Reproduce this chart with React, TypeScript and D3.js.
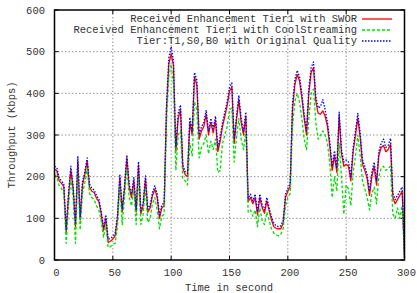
import React from 'react';
import * as d3 from 'd3';

const STEP = 2; // seconds between samples

const swor = [
  218, 214, 190, 184, 176, 66, 152, 215, 170, 80, 236, 96, 180, 205, 238, 175, 165, 162, 148, 140,
  112, 70, 100, 42, 45, 50, 58, 100, 198, 115, 170, 245, 175, 150, 190, 115, 228, 110, 130, 195,
  115, 125, 155, 170, 150, 100, 125, 130, 360, 470, 495, 465, 260, 340, 360, 220, 205, 200, 330, 300,
  440, 420, 290, 310, 320, 350, 300, 330, 305, 335, 260, 285, 320, 345, 370, 405, 415, 280, 335, 385,
  330, 300, 345, 140, 150, 135, 150, 108, 150, 125, 112, 142, 118, 96, 80, 76, 75, 75, 88, 150,
  165, 176, 360, 420, 445, 430, 390, 340, 300, 400, 450, 462, 380, 352, 350, 358, 345, 320, 272, 215,
  250, 210, 345, 255, 225, 230, 225, 190, 260, 300, 340, 295, 230, 215, 195, 155, 200, 225, 180, 250,
  270, 275, 260, 265, 278, 150, 135, 145, 155, 165, 5,
];

const coolStreaming = [
  205, 200, 178, 172, 160, 40, 130, 195, 150, 40, 215, 72, 160, 185, 220, 160, 150, 145, 130, 120,
  95, 55, 85, 30, 32, 38, 40, 80, 180, 85, 150, 225, 150, 130, 170, 85, 205, 85, 110, 175,
  90, 100, 135, 150, 120, 75, 105, 110, 330, 440, 470, 420, 215, 300, 310, 195, 190, 180, 280, 250,
  380, 360, 245, 270, 280, 300, 255, 285, 265, 290, 210, 215, 280, 300, 320, 360, 365, 235, 295, 340,
  290, 265, 310, 115, 120, 105, 120, 80, 125, 95, 85, 115, 95, 75, 65, 60, 58, 62, 75, 130,
  150, 160, 320, 380, 400, 380, 340, 290, 265, 340, 400, 410, 330, 290, 300, 310, 300, 280, 230, 150,
  200, 165, 280, 200, 110, 180, 170, 130, 210, 250, 300, 250, 190, 170, 150, 120, 160, 175, 135, 200,
  220, 225, 215, 220, 225, 110, 100, 125, 100, 130, 5,
];

const original = [
  225, 222, 196, 190, 182, 74, 160, 225, 178, 88, 248, 104, 188, 212, 245, 182, 172, 168, 155, 146,
  118, 78, 108, 50, 52, 56, 64, 108, 206, 122, 178, 252, 182, 158, 198, 122, 236, 118, 138, 202,
  122, 132, 162, 178, 158, 108, 132, 138, 372, 485, 512, 478, 270, 352, 372, 228, 212, 208, 342, 310,
  450, 432, 300, 320, 330, 360, 310, 340, 315, 345, 270, 295, 330, 355, 380, 415, 425, 290, 345, 395,
  340, 310, 355, 148, 158, 142, 158, 115, 158, 132, 120, 150, 125, 104, 88, 82, 80, 82, 95, 158,
  172, 184, 375, 432, 455, 440, 400, 350, 310, 412, 462, 475, 392, 365, 368, 385, 360, 330, 282, 225,
  262, 220, 355, 265, 235, 240, 235, 200, 270, 310, 352, 305, 240, 225, 205, 165, 210, 235, 190, 260,
  280, 290, 270, 275, 292, 160, 145, 155, 165, 175, 5,
];

const series = [
  {name: 'Received Enhancement Tier1 with SWOR', values: swor, color: '#ff0000', dash: 'none'},
  {name: 'Received Enhancement Tier1 with CoolStreaming', values: coolStreaming, color: '#00e000', dash: '3,2'},
  {name: 'Tier:T1,S0,B0 with Original Quality', values: original, color: '#0000ff', dash: '1.5,1.5'},
];

const xTicks = [0, 50, 100, 150, 200, 250, 300];
const yTicks = [0, 100, 200, 300, 400, 500, 600];

const W = 417;
const H = 293;
const FONT = '"Liberation Mono", "DejaVu Sans Mono", monospace';

export default function App() {
  const x = d3.scaleLinear().domain([0, 300]).range([54.5, 404.5]);
  const y = d3.scaleLinear().domain([0, 600]).range([260, 10]);

  const line = d3.line<number>()
    .x((_, i) => x(i * STEP))
    .y((d) => y(d));

  return (
    <svg width={W} height={H} style={{position: 'absolute', left: 0, top: 0, background: '#fff'}}
         fontFamily={FONT} fontSize={10.5}>
      {/* grid */}
      {xTicks.slice(1, -1).map((t) => (
        <line key={'gx' + t} x1={x(t)} x2={x(t)} y1={y(0)} y2={y(600)}
              stroke="#777" strokeWidth={0.8} strokeDasharray="1.5,2"/>
      ))}
      {yTicks.slice(1, -1).map((t) => (
        <line key={'gy' + t} x1={x(0)} x2={x(300)} y1={y(t)} y2={y(t)}
              stroke="#777" strokeWidth={0.8} strokeDasharray="1.5,2"/>
      ))}

      {/* ticks, mirrored */}
      {xTicks.map((t) => (
        <g key={'tx' + t}>
          <line x1={x(t)} x2={x(t)} y1={y(0)} y2={y(0) - 4} stroke="#000"/>
          <line x1={x(t)} x2={x(t)} y1={y(600)} y2={y(600) + 4} stroke="#000"/>
          <text x={x(t) + 2} y={276} textAnchor="middle" fill="#333">{t}</text>
        </g>
      ))}
      {yTicks.map((t) => (
        <g key={'ty' + t}>
          <line x1={x(0)} x2={x(0) + 4} y1={y(t)} y2={y(t)} stroke="#000"/>
          <line x1={x(300)} x2={x(300) - 4} y1={y(t)} y2={y(t)} stroke="#000"/>
          <text x={45} y={y(t)} dy="0.35em" textAnchor="end" fill="#333">{t}</text>
        </g>
      ))}

      {/* data */}
      {series.map((s) => (
        <path key={s.name} d={line(s.values) ?? ''} fill="none" stroke={s.color}
              strokeWidth={1.3} strokeDasharray={s.dash} strokeLinejoin="round"/>
      ))}

      {/* border */}
      <rect x={x(0)} y={y(600)} width={x(300) - x(0)} height={y(0) - y(600)}
            fill="none" stroke="#000" strokeWidth={1.5}/>

      {/* legend */}
      {series.map((s, i) => (
        <g key={'lg' + i}>
          <text x={357} y={18.5 + i * 11} dy="0.35em" textAnchor="end" fill="#333">{s.name}</text>
          <line x1={362} x2={392} y1={19 + i * 11} y2={19 + i * 11} stroke={s.color}
                strokeWidth={1.3} strokeDasharray={s.dash}/>
        </g>
      ))}

      {/* axis labels */}
      <text x={229} y={291} textAnchor="middle" fill="#333">Time in second</text>
      <text transform="translate(15,135) rotate(-90)" textAnchor="middle" fill="#333">Throughput (Kbps)</text>
    </svg>
  );
}
